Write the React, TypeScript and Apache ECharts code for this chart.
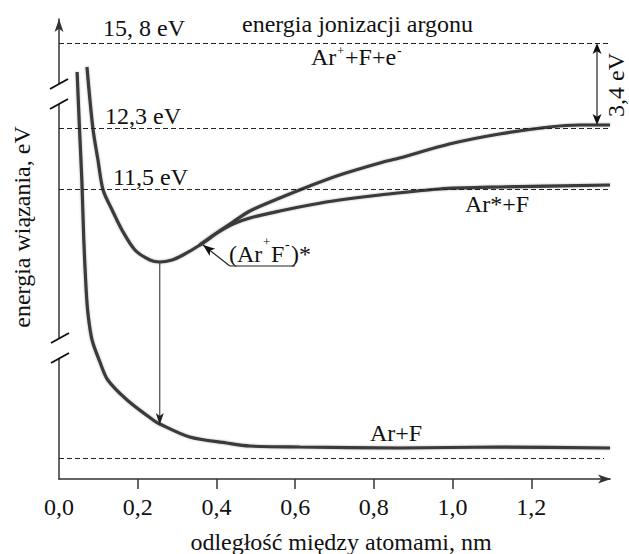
import { useEffect, useRef } from "react";
import * as echarts from "echarts";

const FONT = "'Liberation Serif', 'Times New Roman', Times, serif";

// x: internuclear distance (nm); y: relative energy in diagram units (broken axis)
const xTickValues = [0.2, 0.4, 0.6, 0.8, 1.0, 1.2];
const xLabelValues = [0, 0.2, 0.4, 0.6, 0.8, 1.0, 1.2];

// Ar+F ground state
const groundX = [0.046, 0.052, 0.058, 0.063, 0.069, 0.074, 0.084, 0.104, 0.124, 0.173, 0.239, 0.256, 0.332, 0.426, 0.485, 0.612, 0.865, 1.119, 1.4];
const groundY = [20.35, 17.55, 14.95, 11.95, 9.45, 8.2, 6.95, 5.85, 4.95, 3.95, 2.95, 2.75, 2.1, 1.8, 1.65, 1.6, 1.55, 1.6, 1.55];

// (Ar+F-)* ionic state -> Ar+ + F + e- limit
const ionicX = [0.071, 0.086, 0.099, 0.112, 0.135, 0.16, 0.193, 0.231, 0.256, 0.287, 0.315, 0.358, 0.401, 0.442, 0.485, 0.561, 0.637, 0.713, 0.815, 0.865, 0.992, 1.119, 1.246, 1.322, 1.4];
const ionicY = [20.6, 17.55, 15.95, 14.45, 13.45, 12.45, 11.45, 10.95, 10.85, 10.95, 11.2, 11.7, 12.3, 12.85, 13.4, 14.05, 14.65, 15.2, 15.8, 16.05, 16.75, 17.25, 17.6, 17.7, 17.7];

// Ar*+F excited covalent state (branch)
const excitedX = [0.358, 0.401, 0.442, 0.485, 0.561, 0.637, 0.713, 0.815, 0.967, 1.119, 1.4];
const excitedY = [11.7, 12.3, 12.75, 13.05, 13.4, 13.7, 13.95, 14.2, 14.5, 14.6, 14.7];

// dashed energy levels: 15,8 eV ; 12,3 eV ; 11,5 eV ; Ar+F asymptote
const levelValues = [21.8, 17.55, 14.5, 1.05];
const levelEnds = [1.4, 1.4, 1.4, 1.385];

const transitionX = 0.256; // vertical transition (Ar+F-)* -> Ar+F
const transitionFrom = 10.85;
const transitionTo = 2.7;
const gapX = 1.367; // 3,4 eV arrow
const gapTop = 21.8;
const gapBottom = 17.7;
const breakLevels = [19.25, 6.55];

const zip = (xs: number[], ys: number[]) => xs.map((x, i) => [x, ys[i]]);

export default function App() {
  const ref = useRef<HTMLDivElement>(null);
  useEffect(() => {
    const el = ref.current!;
    const chart = echarts.init(el, undefined, { renderer: "svg" });
    const curve = { color: "#3a3a3a", width: 3.2, shadowBlur: 2, shadowColor: "rgba(0,0,0,0.3)" };
    const axisCol = "#333";
    chart.setOption({
      animation: false,
      backgroundColor: "#ffffff",
      grid: { left: 59, right: 19, top: 19, bottom: 75, containLabel: false, outerBoundsMode: "none" },
      xAxis: {
        type: "value",
        min: 0,
        max: 1.4,
        interval: 0.2,
        axisLine: { show: true, lineStyle: { color: axisCol, width: 1.5 } },
        axisTick: { show: true, inside: false, length: 10, customValues: xTickValues, lineStyle: { color: axisCol, width: 1.5 } },
        axisLabel: {
          customValues: xLabelValues,
          formatter: (v: number) => v.toFixed(1).replace(".", ","),
          color: "#111",
          fontFamily: FONT,
          fontSize: 24,
          margin: 28,
          verticalAlign: "middle",
        },
        splitLine: { show: false },
      },
      yAxis: {
        type: "value",
        min: 0,
        max: 23,
        axisLine: { show: true, lineStyle: { color: axisCol, width: 1.5 } },
        axisTick: { show: false },
        axisLabel: { show: false },
        splitLine: { show: false },
      },
      series: [
        {
          type: "line",
          name: "Ar+F",
          data: zip(groundX, groundY),
          smooth: 0.3,
          symbol: "none",
          silent: true,
          lineStyle: curve,
          markLine: {
            silent: true,
            symbol: "none",
            label: { show: false },
            emphasis: { disabled: true },
            lineStyle: { color: "#222", width: 1, type: [5, 3] },
            data: levelValues.map((v, i) => [{ coord: [0, v] }, { coord: [levelEnds[i], v] }]),
          },
        },
        { type: "line", name: "(Ar+F-)*", data: zip(ionicX, ionicY), smooth: 0.3, symbol: "none", silent: true, lineStyle: curve },
        { type: "line", name: "Ar*+F", data: zip(excitedX, excitedY), smooth: 0.3, symbol: "none", silent: true, lineStyle: curve },
      ],
    });

    const P = (x: number, y: number) => chart.convertToPixel({ gridIndex: 0 }, [x, y]) as number[];
    const arrowHead = (tip: number[], from: number[], L: number, W: number, color: string) => {
      const dx = tip[0] - from[0];
      const dy = tip[1] - from[1];
      const len = Math.hypot(dx, dy) || 1;
      const ux = dx / len, uy = dy / len;
      const px = -uy, py = ux;
      const bx = tip[0] - ux * L, by = tip[1] - uy * L;
      const nx = tip[0] - ux * (L * 0.75), ny = tip[1] - uy * (L * 0.75);
      return {
        type: "polygon",
        silent: true,
        shape: { points: [tip, [bx + px * W, by + py * W], [nx, ny], [bx - px * W, by - py * W]] },
        style: { fill: color },
        z: 20,
      };
    };
    const seg = (a: number[], b: number[], color: string, w: number) => ({
      type: "line",
      silent: true,
      shape: { x1: a[0], y1: a[1], x2: b[0], y2: b[1] },
      style: { stroke: color, lineWidth: w },
      z: 20,
    });
    const txt = (text: string, x: number, y: number, size = 24, align = "left", rotation = 0) => ({
      type: "text",
      silent: true,
      x,
      y,
      rotation,
      style: { text, fill: "#111", fontSize: size, fontFamily: FONT, align, verticalAlign: "middle" },
      z: 30,
    });

    const elements: any[] = [];
    // axis arrows
    const yTop = P(0, 23);
    elements.push(arrowHead([yTop[0], yTop[1]], [yTop[0], yTop[1] + 20], 13, 4.5, axisCol));
    const xEnd = P(1.4, 0);
    elements.push(arrowHead([xEnd[0] + 1, xEnd[1]], [xEnd[0] - 20, xEnd[1]], 13, 4.5, axisCol));
    // axis breaks
    breakLevels.forEach((v, k) => {
      const c = P(0, v);
      const cx = c[0] + (k === 1 ? 1 : 0);
      const y1 = c[1] - 10;
      const y2 = c[1] + 10;
      elements.push({
        type: "polygon",
        silent: true,
        shape: { points: [[cx - 9, y1 + 5], [cx + 9, y1 - 5], [cx + 9, y2 - 5], [cx - 9, y2 + 5]] },
        style: { fill: "#fff" },
        z: 19,
      });
      elements.push(seg([cx - 9, y1 + 5], [cx + 9, y1 - 5], "#111", 2));
      elements.push(seg([cx - 9, y2 + 5], [cx + 9, y2 - 5], "#111", 2));
    });
    // vertical transition arrow
    const tA = P(transitionX, transitionFrom);
    const tB = P(transitionX, transitionTo);
    elements.push(seg(tA, [tB[0], tB[1] - 8], "#444", 1.2));
    elements.push(arrowHead(tB, tA, 12, 4, "#222"));
    // 3,4 eV double arrow
    const gA = P(gapX, gapTop);
    const gB = P(gapX, gapBottom);
    elements.push(seg([gA[0], gA[1] + 6], [gB[0], gB[1] - 6], "#222", 1.2));
    elements.push(arrowHead(gA, gB, 11, 4.5, "#111"));
    elements.push(arrowHead(gB, gA, 11, 4.5, "#111"));
    // pointer for (Ar+F-)*
    const lA = P(0.434, 10.65);
    const lTip = P(0.366, 11.7);
    const lEnd = P(0.6, 10.65);
    elements.push(seg(lA, lEnd, "#222", 1.2));
    elements.push(seg(lA, lTip, "#222", 1.2));
    elements.push(arrowHead(lTip, lA, 12, 4.5, "#111"));

    // texts
    elements.push(txt("15, 8 eV", 103, 28));
    elements.push(txt("energia jonizacji argonu", 242, 24));
    elements.push(txt("Ar", 311, 57));
    elements.push(txt("+", 337, 50, 13));
    elements.push(txt("+F+e", 345, 57));
    elements.push(txt("-", 397, 50, 14));
    elements.push(txt("12,3 eV", 105, 116));
    elements.push(txt("11,5 eV", 113, 177));
    elements.push(txt("Ar*+F", 465, 204));
    elements.push(txt("Ar+F", 370, 433));
    elements.push(txt("(Ar", 229, 254));
    elements.push(txt("+", 263, 241, 13));
    elements.push(txt("F", 271, 254));
    elements.push(txt("-", 285, 244, 14));
    elements.push(txt(")*", 291, 254));
    elements.push(txt("3,4 eV", 616, 85, 24, "center", Math.PI / 2));
    elements.push(txt("energia wiązania, eV", 22, 227, 24, "center", Math.PI / 2));
    elements.push(txt("odległość między atomami, nm", 341, 542, 24, "center"));

    chart.setOption({ graphic: { elements } });
    return () => chart.dispose();
  }, []);
  return <div ref={ref} style={{ position: "absolute", left: 0, top: 0, width: 629, height: 554 }} />;
}
